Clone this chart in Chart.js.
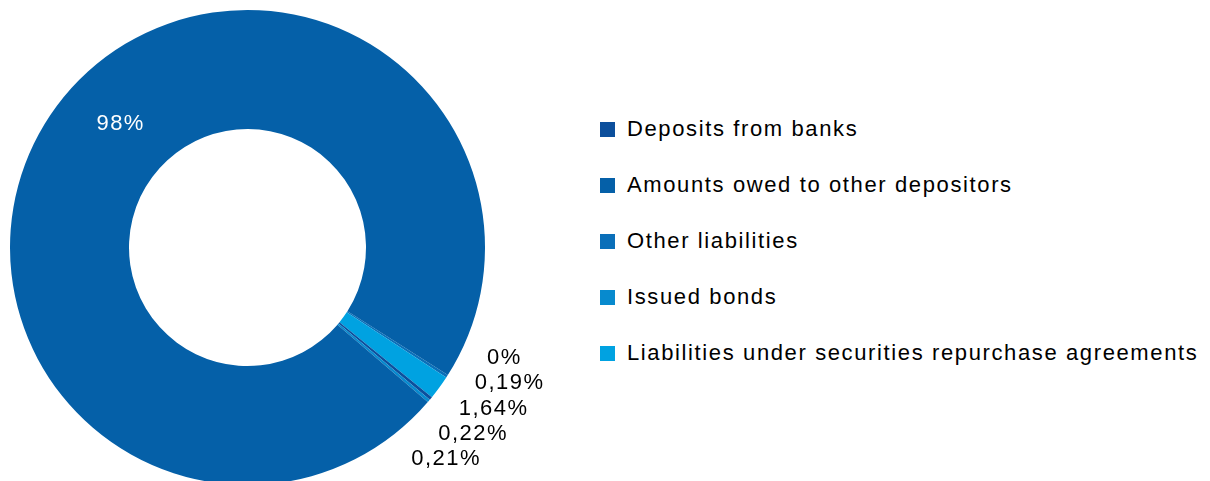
<!DOCTYPE html>
<html>
<head>
<meta charset="utf-8">
<script src="https://cdn.jsdelivr.net/npm/chart.js@4"></script>
<style>
  html, body { margin: 0; padding: 0; background: #fff; overflow: hidden; }
  #page { position: relative; width: 1210px; height: 481px; overflow: hidden; }
  #pie { position: absolute; left: 0; top: 0; width: 600px; height: 495px; }
  #legend { position: absolute; left: 600px; top: 101px; margin: 0; padding: 0; list-style: none;
    font-family: 'Liberation Sans', Arial, sans-serif; font-size: 22px; letter-spacing: 1.62px; color: #000; }
  #legend li { display: flex; align-items: center; height: 56px; line-height: 22px; white-space: nowrap; }
  #legend span.box { display: inline-block; width: 15px; height: 15px; margin-right: 12px; }
</style>
</head>
<body>
<div id="page">
  <div id="pie"><canvas id="myChart"></canvas></div>
  <ul id="legend"></ul>
</div>
<script>
'use strict'

// slices in drawing order (clockwise)
const categories = ['', 'Other liabilities', 'Liabilities under securities repurchase agreements', 'Deposits from banks', 'Issued bonds', 'Amounts owed to other depositors']
const shares = [0, 0.19, 1.64, 0.22, 0.21, 98]
const colors = ['#0a3f88', '#0a6fb9', '#00a2e1', '#0c4f9c', '#078ace', '#0560a8']

// order of the legend entries
const legendOrder = ['Deposits from banks', 'Amounts owed to other depositors', 'Other liabilities', 'Issued bonds', 'Liabilities under securities repurchase agreements']

const fmt = v => String(v).replace('.', ',') + '%'

const sliceLabels = {
  id: 'sliceLabels',
  afterDatasetsDraw(chart, args, opts) {
    const ctx = chart.ctx
    const arcs = chart.getDatasetMeta(0).data
    const values = chart.data.datasets[0].data
    const cap = opts.capHeight
    const outside = []

    ctx.save()
    ctx.font = opts.font
    ctx.letterSpacing = opts.letterSpacing
    ctx.textBaseline = 'alphabetic'

    arcs.forEach((arc, i) => {
      const mid = (arc.startAngle + arc.endAngle) / 2
      const text = fmt(values[i])
      if (values[i] >= opts.minInside) {
        const a = mid + opts.insideShift * Math.PI / 180
        const r = (arc.innerRadius + arc.outerRadius) / 2
        ctx.fillStyle = '#fff'
        ctx.textAlign = 'center'
        ctx.fillText(text, arc.x + r * Math.cos(a), arc.y + r * Math.sin(a) + cap / 2)
      } else {
        outside.push({ text, mid, x: arc.x, y: arc.y })
      }
    })

    // small slices: stack the labels beside the ring
    const n = outside.length
    if (n) {
      const cx = outside[0].x
      const cy = outside[0].y
      const meanY = cy + opts.anchorRadius * outside.reduce((s, o) => s + Math.sin(o.mid), 0) / n
      ctx.fillStyle = '#000'
      ctx.textAlign = 'left'
      outside.forEach((o, k) => {
        const yc = meanY + (k - (n - 1) / 2) * opts.lineGap
        const top = yc - cap / 2
        const left = cx + Math.sqrt(Math.max(opts.labelRadius ** 2 - (top - cy) ** 2, 0))
        ctx.fillText(o.text, left, yc + cap / 2)
      })
    }
    ctx.restore()
  }
}

const ctx = document.getElementById('myChart')

new Chart(ctx, {
  type: 'doughnut',
  data: {
    labels: categories,
    datasets: [{
      data: shares,
      backgroundColor: colors,
      borderWidth: 0
    }]
  },
  options: {
    responsive: true,
    maintainAspectRatio: false,
    animation: false,
    rotation: 122.5,
    radius: 237.5,
    cutout: 118.5,
    layout: { padding: { left: 10, right: 115, top: 10, bottom: 10 } },
    plugins: {
      legend: { display: false },
      tooltip: { enabled: false },
      sliceLabels: {
        font: "22px 'Liberation Sans', Arial, sans-serif",
        letterSpacing: '1.5px',
        capHeight: 15.5,
        minInside: 5,
        insideShift: 8,
        anchorRadius: 270,
        labelRadius: 260,
        lineGap: 25.2
      }
    }
  },
  plugins: [sliceLabels]
})

// legend
const list = document.getElementById('legend')
legendOrder.forEach(name => {
  const li = document.createElement('li')
  const box = document.createElement('span')
  box.classList.add('box')
  box.style.background = colors[categories.indexOf(name)]
  li.appendChild(box)
  li.appendChild(document.createTextNode(name))
  list.appendChild(li)
})
</script>
</body>
</html>
